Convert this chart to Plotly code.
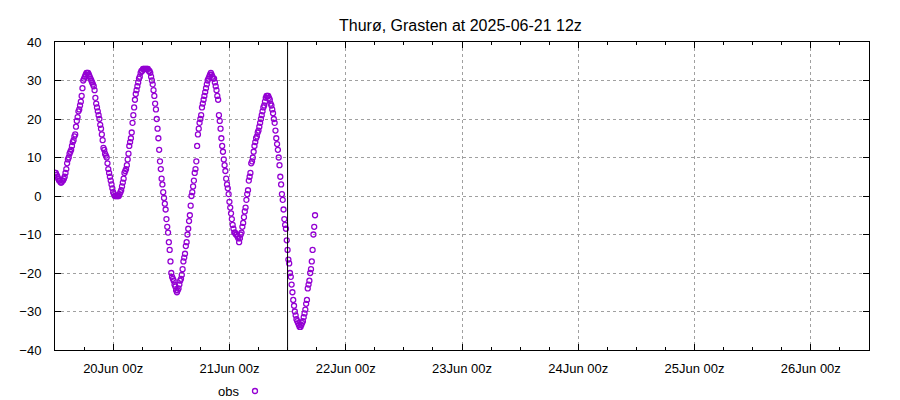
import pandas as pd
import plotly.graph_objects as go

title = "Thurø, Grasten at 2025-06-21 12z"
start_time = "2025-06-19 12:00"
analysis_time = "2025-06-21 12:00"
x_range = ["2025-06-19 12:00", "2025-06-26 12:00"]
y_range = [-40, 40]
legend_label = "obs"

# observed sea level (cm), 10-minute values starting 19Jun 12z
obs = [
    6, 6, 5.5, 5, 4.5, 4,
    4, 3.5, 3.5, 4, 4, 4.5,
    5, 6, 7, 8.5, 9.5, 10,
    11, 11.5, 12, 13, 14, 14.5,
    15.5, 16, 18, 19.5, 20.5, 22,
    22.5, 23.5, 24.5, 26, 28, 30,
    30.5, 31, 31.5, 32, 32, 32,
    31.5, 31, 30.5, 30, 29.5, 29,
    28.5, 27.5, 25.5, 24, 23, 22,
    21, 20, 18.5, 17.5, 16, 14.5,
    12.5, 12, 11, 10.5, 10, 8.5,
    7, 6, 5, 4, 3, 2,
    1, 0.5, 0, 0, 0, 0,
    0, 0, 0.5, 1, 1.5, 2.5,
    3.5, 4.5, 6, 6.5, 7, 8,
    9.5, 11, 13, 14, 15, 16.5,
    19, 21, 23, 25, 26.5, 27.5,
    28.5, 29.5, 30.5, 31, 32, 32.5,
    32.5, 33, 33, 33, 33, 33,
    33, 33, 32.5, 32.5, 32, 31,
    30, 29, 27.5, 26, 24, 22.5,
    20, 17.5, 15, 12, 9, 7,
    4.5, 3, 1, -0.5, -2, -3.5,
    -6, -8, -9.5, -12, -14, -17,
    -20, -21, -21.5, -22, -23, -23.5,
    -24.5, -25, -24.5, -24, -23, -22,
    -21.5, -20.5, -19, -17, -16, -15,
    -13, -12, -10, -8.5, -6.5, -5,
    -2.5, 0, 1, 2.5, 4, 6,
    7, 9, 13, 16, 17.5, 19,
    20, 21, 23, 24, 25, 26,
    27, 28, 29, 30, 30.5, 31,
    31.5, 32, 31.5, 31, 30.5, 30.5,
    29.5, 28.5, 27.5, 26, 25, 21,
    19.5, 17.5, 15, 13, 11.5, 9.5,
    8, 6.5, 4.5, 3, 2, 0.5,
    -1.5, -3, -4.5, -6, -7.5, -8.5,
    -9.5, -9.5, -10, -10, -10.5, -11,
    -12, -11, -10, -9.5, -8, -7,
    -5.5, -4, -3, -1, 0.5, 1.5,
    4, 5, 6, 8.5, 9, 10,
    11.5, 13, 14, 15, 15.5, 16.5,
    17, 18, 19, 20, 21, 22,
    23, 23.5, 24.5, 25.5, 26, 26,
    26, 25.5, 25, 24, 23.5, 22.5,
    21.5, 20, 19, 17, 15, 13.5,
    12, 10, 8, 5, 3, 0.5,
    -1, -3.5, -6, -7.5, -8.5, -11.5,
    -14, -16.5, -17.5, -20, -21, -23,
    -25, -27, -28.5, -30, -31, -32,
    -32.5, -33, -33.5, -34, -34, -33.5,
    -33, -32.5, -31.5, -30.5, -29.5, -28,
    -27, -24, -23, -22, -20, -19,
    -17, -14, -10, -8, -5,
]

times = pd.date_range(start_time, periods=len(obs), freq="10min")

PURPLE = "#9400D3"
FONT = "Liberation Sans, Arial, sans-serif"

# the page body adds an 8px margin; work in screen pixels and shift
OFF = 8
FIG_W, FIG_H = 900 - OFF, 400 - OFF
L, R, T, B = 55 - OFF, 869 - OFF, 42 - OFF, 350 - OFF
W, H = R - L, B - T


def paper_x(px):
    return (px - OFF - L) / W


def paper_y(py):
    return (B - (py - OFF)) / H


marker = dict(symbol="circle-open", size=5, color=PURPLE,
              line=dict(width=1.3, color=PURPLE))

fig = go.Figure()
fig.add_trace(go.Scatter(x=times, y=obs, mode="markers", name=legend_label,
                         showlegend=False, marker=marker))

fig.add_shape(type="line", xref="x", yref="paper",
              x0=analysis_time, x1=analysis_time, y0=0, y1=1,
              line=dict(color="black", width=1))

# gnuplot-style key: label followed by the point sample
fig.add_shape(type="circle", xref="paper", yref="paper",
              xsizemode="pixel", ysizemode="pixel",
              xanchor=paper_x(255), yanchor=paper_y(391),
              x0=-2.5, x1=2.5, y0=-2.5, y1=2.5,
              line=dict(color=PURPLE, width=1.3), fillcolor="rgba(0,0,0,0)")
fig.add_annotation(text=legend_label, xref="paper", yref="paper",
                   x=paper_x(241), y=paper_y(391),
                   xanchor="right", yanchor="middle", showarrow=False,
                   font=dict(family=FONT, size=13, color="black"))
fig.add_annotation(text=title, xref="paper", yref="paper",
                   x=paper_x(460), y=paper_y(26),
                   xanchor="center", yanchor="middle", showarrow=False,
                   font=dict(family=FONT, size=16, color="black"))

grid = dict(showgrid=True, gridcolor="#a0a0a0", gridwidth=1, griddash="dot")

fig.update_layout(
    width=FIG_W, height=FIG_H,
    margin=dict(l=L, r=FIG_W - R, t=T, b=FIG_H - B, autoexpand=False),
    paper_bgcolor="white", plot_bgcolor="white",
    font=dict(family=FONT, size=13, color="black"),
    showlegend=False,
    xaxis=dict(range=x_range, type="date", tickformat="%d%b %Hz",
               dtick=86400000, tick0="2025-06-20 00:00",
               ticks="inside", ticklen=6, tickcolor="black",
               showline=True, linecolor="black", linewidth=1, mirror="ticks",
               ticklabelstandoff=6, automargin=False,
               minor=dict(dtick=6 * 3600000, ticks="inside", ticklen=3,
                          tickcolor="black", showgrid=False),
               zeroline=False, **grid),
    yaxis=dict(range=y_range, dtick=10, tick0=0,
               ticks="inside", ticklen=6, tickcolor="black",
               showline=True, linecolor="black", linewidth=1, mirror="ticks",
               ticklabelstandoff=10, automargin=False, zeroline=False, **grid),
)

fig.write_html("out.html")
